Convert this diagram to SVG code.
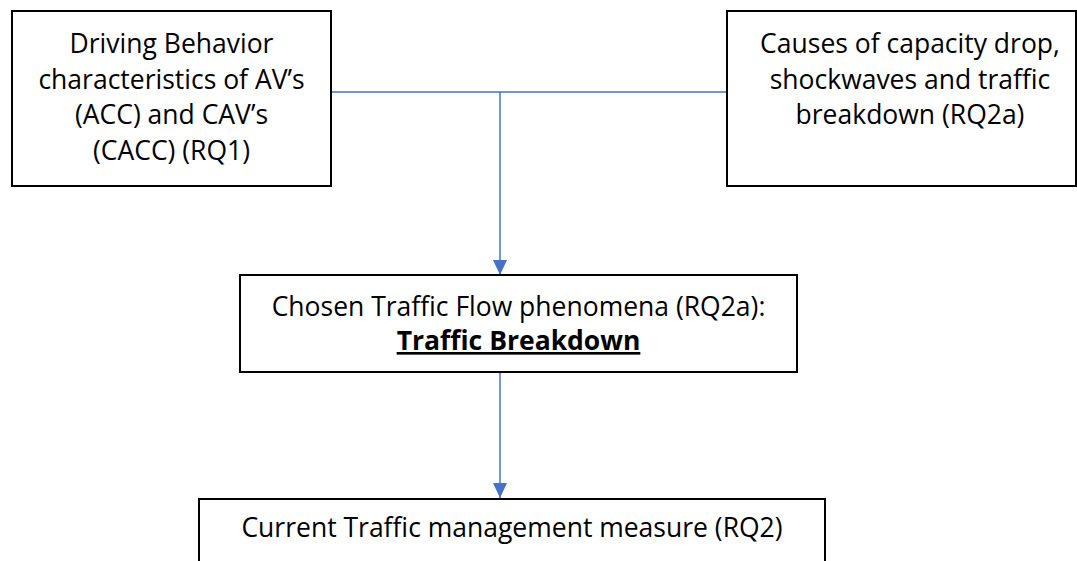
<svg xmlns="http://www.w3.org/2000/svg" width="1077" height="561" viewBox="0 0 1077 561">
<style>
.box{fill:#fff;stroke:#000;stroke-width:2}
.t{font-family:"Open Sans","Noto Sans","DejaVu Sans",sans-serif;font-size:26.5px;fill:#000;text-anchor:middle}
.b{font-weight:bold;text-decoration:underline}
.c{fill:none;stroke:#4472C4;stroke-width:1.5}
</style>
<defs>
<marker id="ah" markerWidth="15" markerHeight="14" refX="15" refY="7" orient="auto" markerUnits="userSpaceOnUse" viewBox="0 0 15 14">
<path d="M0,0 L15,7 L0,14 Z" fill="#4472C4"/>
</marker>
</defs>
<rect width="1077" height="561" fill="#fff"/>
<g id="connectors">
<line class="c" x1="331" y1="92" x2="727" y2="92"/>
<line class="c" x1="500" y1="92" x2="500" y2="275" marker-end="url(#ah)"/>
<line class="c" x1="500" y1="372" x2="500" y2="498" marker-end="url(#ah)"/>
</g>
<g id="node-rq1">
<rect class="box" x="12" y="11" width="319" height="175"/>
<text class="t" x="171.5" y="53">Driving Behavior</text>
<text class="t" x="171.5" y="88.5">characteristics of AV’s</text>
<text class="t" x="171.5" y="124">(ACC) and CAV’s</text>
<text class="t" x="171.5" y="159.5">(CACC) (RQ1)</text>
</g>
<g id="node-rq2a-causes">
<rect class="box" x="727" y="11" width="349" height="175"/>
<text class="t" x="910" y="53">Causes of capacity drop,</text>
<text class="t" x="910" y="88.5">shockwaves and traffic</text>
<text class="t" x="910" y="124">breakdown (RQ2a)</text>
</g>
<g id="node-phenomena">
<rect class="box" x="240" y="275" width="557" height="97"/>
<text class="t" x="518.5" y="316">Chosen Traffic Flow phenomena (RQ2a):</text>
<text class="t b" x="518.5" y="350">Traffic Breakdown</text>
</g>
<g id="node-measure">
<rect class="box" x="199" y="499" width="626" height="100"/>
<text class="t" x="512" y="537">Current Traffic management measure (RQ2)</text>
</g>
</svg>
